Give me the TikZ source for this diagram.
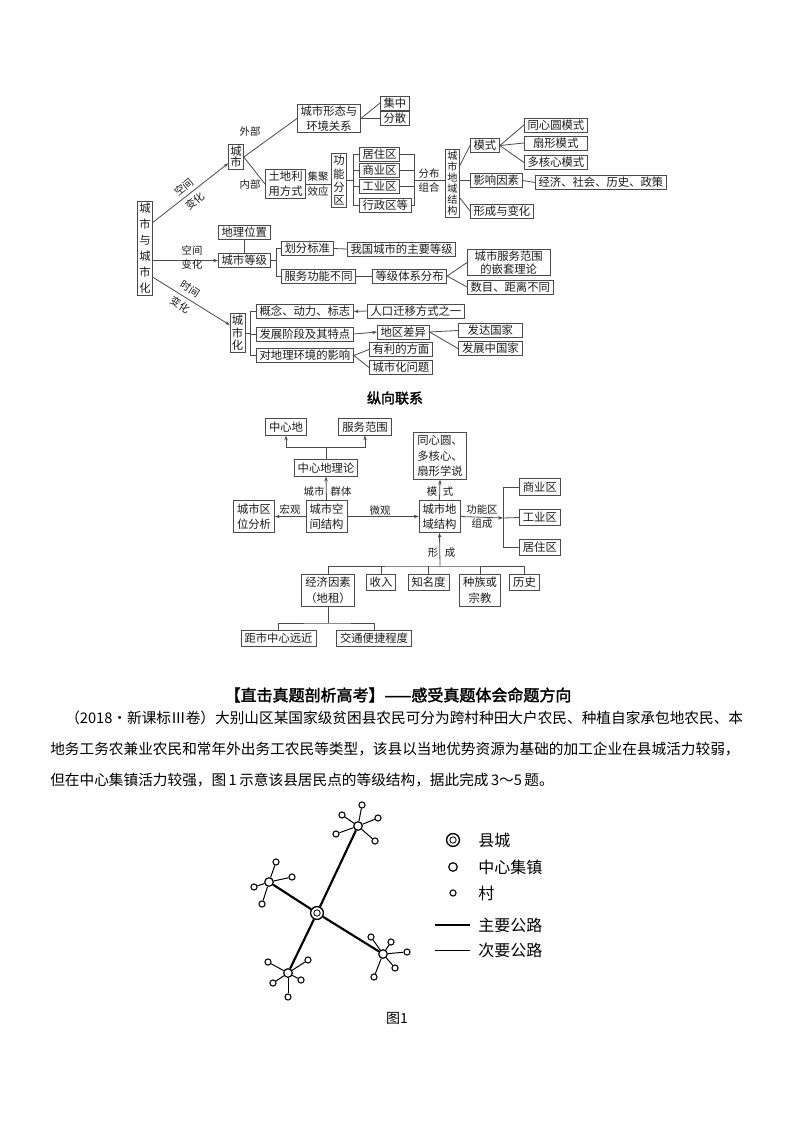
\documentclass[tikz,border=0pt]{standalone}
\usepackage{fontspec}
\setmainfont{Noto Sans CJK SC}
\newfontfamily\headfont{Noto Sans CJK SC}[FakeBold=2]
\usepackage{tikz}
\usetikzlibrary{positioning, arrows.meta, calc}
\definecolor{map-line}{HTML}{4A4A4A}
\definecolor{map-text}{HTML}{1A1A1A}

\begin{document}
\begin{tikzpicture}[
    x=0.75pt, y=-0.75pt,
    box/.style={draw=map-line, line width=0.6pt, fill=white, align=center,
                inner xsep=2.4pt, inner ysep=1.3pt, text=map-text,
                font=\fontsize{8.5}{11}\selectfont},
    vbox/.style={box, inner xsep=1.3pt, font=\fontsize{8.5}{#1}\selectfont},
    box2/.style={box, inner xsep=2.6pt, inner ysep=2.2pt,
                 font=\fontsize{8.5}{11.5}\selectfont},
    lbl/.style={align=center, inner sep=0.5pt, text=map-text,
                font=\fontsize{7.8}{11}\selectfont},
    link/.style={map-line, line width=0.6pt},
    arr/.style={link, -{Stealth[length=3.6pt, width=2.6pt]}},
    county/.style={circle, draw=black, line width=1pt, fill=white, minimum size=9.6pt,
                   inner sep=0pt, path picture={
                     \draw[line width=0.6pt] (path picture bounding box.center) circle (2.4pt);
                     \fill (path picture bounding box.center) circle (1.1pt);}},
    town/.style={circle, draw=black, line width=0.9pt, fill=white, minimum size=6.4pt, inner sep=0pt},
    vil/.style={circle, draw=black, line width=0.8pt, fill=white, minimum size=4.6pt, inner sep=0pt},
    mainroad/.style={black, line width=1.6pt},
    minorroad/.style={black, line width=0.75pt},
    legtxt/.style={anchor=west, inner sep=0pt, font=\fontsize{12}{14}\selectfont},
    para/.style={anchor=west, inner sep=0pt, font=\fontsize{11}{13}\selectfont},
]
    \fill[white] (0,0) rectangle (794,1123);
    \useasboundingbox (0,0) rectangle (794,1123);

    % Mind map: root
    \node[vbox=12] (root) at (145,248.5) {城\\市\\与\\城\\市\\化};

    % Spatial change: city
    \node[vbox=8.5] (city) at (236,157) {城\\市};
    \node[box, anchor=west] (shape) at (297,118.5) {城市形态与\\环境关系};
    \node[box, anchor=west] (jizhong) at (380,103) {集中};
    \node[box, anchor=west] (fensan) at (380,118.5) {分散};
    \node[box, anchor=west] (land) at (265,184) {土地利\\用方式};
    \node[vbox=10] (func) at (339,180.5) {功\\能\\分\\区};
    \node[box, anchor=west] (z1) at (359,154) {居住区};
    \node[box, anchor=west] (z2) at (359,170) {商业区};
    \node[box, anchor=west] (z3) at (359,186.5) {工业区};
    \node[box, anchor=west] (z4) at (359,205) {行政区等};
    \node[vbox=8.3, font=\fontsize{7.6}{8.3}\selectfont] (struct) at (452.5,183)
        {城\\市\\地\\域\\结\\构};
    \node[box, anchor=west] (mode) at (470,145.5) {模式};
    \node[box, anchor=west, minimum width=47pt] (m1) at (524,125) {同心圆模式};
    \node[box, anchor=west, minimum width=47pt] (m2) at (524,143) {扇形模式};
    \node[box, anchor=west, minimum width=47pt] (m3) at (524,162.5) {多核心模式};
    \node[box, anchor=west] (infl) at (470,180.5) {影响因素};
    \node[box, anchor=west] (econ) at (535,182.5) {经济、社会、历史、政策};
    \node[box, anchor=west] (form) at (470,211) {形成与变化};

    \coordinate (fl) at (353,180.5);
    \coordinate (fr) at (414,180.5);

    \draw[arr] ([yshift=-16pt]root.north east) -- ([yshift=5pt]city.south west);
    \node[lbl, rotate=39] (sp1a) at (184,187) {空间};
    \node[lbl, rotate=39] (sp1b) at (195,201) {变化};
    \draw[link] (city.east) -- (shape.west);
    \draw[link] (city.east) -- (land.west);
    \node[lbl] (outer) at (250,132) {外部};
    \node[lbl] (inner) at (250,185) {内部};
    \draw[link] (shape.east) -- (jizhong.west);
    \draw[link] (shape.east) -- (fensan.west);
    \draw[link] (land.east) -- (land.east -| func.west);
    \node[lbl] (jj) at (318,184) {集聚\\效应};
    \draw[link] (func.east) -- (fl);
    \draw[link] (z1.west) -- ++(-6,0) |- (z4.west);
    \draw[link] (z2.west) -- ++(-6,0);
    \draw[link] (z3.west) -- ++(-6,0);
    \draw[link] (z1.east) -- (z1.east -| fr) |- (z4.east);
    \draw[link] (z2.east) -- (z2.east -| fr);
    \draw[link] (z3.east) -- (z3.east -| fr);
    \draw[link] (fr) -- (struct.west |- fr);
    \node[lbl] (fb) at (429,180.5) {分布\\组合};
    \draw[link] ([yshift=13pt]struct.east) -- (mode.west);
    \draw[link] (struct.east |- infl.west) -- (infl.west);
    \draw[link] ([yshift=-11pt]struct.east) -- (form.west);
    \draw[link] (mode.east) -- (m1.west);
    \draw[link] (mode.east) -- (m2.west);
    \draw[link] (mode.east) -- (m3.west);
    \draw[link] (infl.east) -- (econ.west);

    % Spatial change: city grade
    \node[box, anchor=west] (loc) at (218,232) {地理位置};
    \node[box, anchor=west] (grade) at (218,260.5) {城市等级};
    \node[box, anchor=west] (std) at (281,248.5) {划分标准};
    \node[box, anchor=west] (main) at (347,249) {我国城市的主要等级};
    \node[box, anchor=west] (serv) at (281,276) {服务功能不同};
    \node[box, anchor=west] (sys) at (372,276) {等级体系分布};
    \node[box, anchor=west, minimum width=62pt, font=\fontsize{8.5}{9.5}\selectfont] (nest)
        at (467,262.5) {城市服务范围\\的嵌套理论};
    \node[box, anchor=west, minimum width=62pt] (num) at (467,287) {数目、距离不同};

    \coordinate (gb) at (276,260.5);
    \draw[arr] (root.east |- grade.west) -- (grade.west);
    \node[lbl] (sp2) at (192,257.5) {空间\\变化};
    \draw[link] (loc.south) -- (grade.north);
    \draw[link] (grade.east) -- (gb);
    \draw[link] (std.west) -- ++(-5,0) |- (serv.west);
    \draw[link] (std.east) -- (main.west);
    \draw[link] (serv.east) -- (sys.west);
    \draw[link] (sys.east) -- (nest.west);
    \draw[link] (sys.east) -- (num.west);

    % Temporal change: urbanisation
    \node[vbox=9.5] (urb) at (237.5,333) {城\\市\\化};
    \node[box, anchor=west] (c1) at (256,311.5) {概念、动力、标志};
    \node[box, anchor=west] (c2) at (256,334) {发展阶段及其特点};
    \node[box, anchor=west] (c3) at (256,355.5) {对地理环境的影响};
    \node[box, anchor=west] (mig) at (367,311) {人口迁移方式之一};
    \node[box, anchor=west] (reg) at (377,332) {地区差异};
    \node[box, anchor=west, minimum width=48pt] (dev1) at (458,330.5) {发达国家};
    \node[box, anchor=west, minimum width=48pt] (dev2) at (458,348.5) {发展中国家};
    \node[box, anchor=west] (adv) at (369,349.5) {有利的方面};
    \node[box, anchor=west] (prob) at (369,367.5) {城市化问题};

    \coordinate (ub) at (250,333);
    \draw[arr] ([yshift=14pt]root.south east) -- ([yshift=6pt]urb.west);
    \node[lbl, rotate=-32] (tma) at (190,289) {时间};
    \node[lbl, rotate=-32] (tmb) at (180,305) {变化};
    \draw[link] (urb.east) -- (ub);
    \draw[link] (c1.west) -- ++(-6,0) |- (c3.west);
    \draw[link] (c2.west) -- ++(-6,0);
    \draw[arr] (mig.west) -- (c1.east);
    \draw[arr] (c2.east) -- (reg.west);
    \draw[link] (reg.east) -- (dev1.west);
    \draw[link] (reg.east) -- (dev2.west);
    \draw[link] (c3.east) -- (adv.west);
    \draw[link] (c3.east) -- (prob.west);

    % Title
    \node[font=\headfont\fontsize{10.5}{12}\selectfont] (title) at (395,398) {纵向联系};

    % Vertical links
    \node[box2] (cm) at (286,427) {中心地};
    \node[box2] (sr) at (365,427) {服务范围};
    \node[box2] (cmt) at (326,468) {中心地理论};
    \node[box2] (ss) at (326.5,516.5) {城市空\\间结构};
    \node[box2] (loc2) at (254,516.5) {城市区\\位分析};
    \node[box2] (rs) at (439.5,516.5) {城市地\\域结构};
    \node[box2] (th) at (440,456) {同心圆、\\多核心、\\扇形学说};
    \node[box2, anchor=west] (sy) at (519,487) {商业区};
    \node[box2, anchor=west] (gy) at (519,517.5) {工业区};
    \node[box2, anchor=west] (jy) at (519,547.5) {居住区};
    \node[box2, anchor=north] (ec) at (328,574) {经济因素\\（地租）};
    \node[box2, anchor=north] (inc) at (381,574) {收入};
    \node[box2, anchor=north] (kn) at (428.5,574) {知名度};
    \node[box2, anchor=north] (ra) at (480,574) {种族或\\宗教};
    \node[box2, anchor=north] (hi) at (524.5,574) {历史};
    \node[box2, anchor=north] (d1) at (278.5,630) {距市中心远近};
    \node[box2, anchor=north] (d2) at (374,630) {交通便捷程度};

    \coordinate (cj) at (326,447);
    \coordinate (fj) at (503,518);
    \coordinate (bj) at (440,566);
    \coordinate (dj) at (328,623);
    \draw[link] (cmt.north) -- (cj);
    \draw[arr] (cj) -| (cm.south);
    \draw[arr] (cj) -| (sr.south);
    \draw[arr] (ss.north) -- (cmt.south);
    \node[lbl] (l1) at (314,492) {城市};
    \node[lbl] (l2) at (341,492) {群体};
    \draw[arr] (ss.west) -- (loc2.east);
    \node[lbl] (l3) at (290,510) {宏观};
    \draw[arr] (ss.east) -- (rs.west);
    \node[lbl] (l4) at (380,511) {微观};
    \draw[arr] (rs.north) -- (th.south);
    \node[lbl] (l5) at (432,492) {模};
    \node[lbl] (l6) at (448,492) {式};
    \draw[arr] (rs.east) -- (fj);
    \node[lbl] (l7) at (482,510) {功能区};
    \node[lbl] (l8) at (482,524) {组成};
    \draw[link] (sy.west) -- ++(-16,0) |- (jy.west);
    \draw[link] (fj) -- (gy.west);
    \draw[link] (ec.north) |- (bj) -| (hi.north);
    \draw[link] (inc.north) -- (inc.north |- bj);
    \draw[link] (kn.north) -- (kn.north |- bj);
    \draw[link] (ra.north) -- (ra.north |- bj);
    \draw[arr] (bj) -- (rs.south);
    \node[lbl] (l9) at (433,553) {形};
    \node[lbl] (l10) at (450,553) {成};
    \draw[link] (ec.south) -- (dj);
    \draw[link] (d1.north) |- (dj) -| (d2.north);

    % Exam text
    \node[font=\headfont\fontsize{12}{14}\selectfont] (head) at (398,695)
        {【直击真题剖析高考】——感受真题体会命题方向};
    \node[para] (p1) at (65,718)
        {（2018·新课标Ⅲ卷）大别山区某国家级贫困县农民可分为跨村种田大户农民、种植自家承包地农民、本};
    \node[para] (p2) at (50,749)
        {地务工务农兼业农民和常年外出务工农民等类型，该县以当地优势资源为基础的加工企业在县城活力较弱，};
    \node[para] (p3) at (50,780)
        {但在中心集镇活力较强，图\,1\,示意该县居民点的等级结构，据此完成\,3～5\,题。};

    % Figure 1: settlements
    \node[county] (xian) at (317,913) {};
    \node[town] (tne) at (358,826) {};
    \node[town] (tw) at (269,882) {};
    \node[town] (tse) at (383,954) {};
    \node[town] (tsw) at (288,973) {};
    \node[vil] (ne1) at (362,805) {};
    \node[vil] (ne2) at (342,815) {};
    \node[vil] (ne3) at (378,818) {};
    \node[vil] (ne4) at (336,834) {};
    \node[vil] (ne5) at (375,841) {};
    \node[vil] (w1) at (276,862) {};
    \node[vil] (w2) at (292,877) {};
    \node[vil] (w3) at (254,887) {};
    \node[vil] (w4) at (262,904) {};
    \node[vil] (se1) at (371,937) {};
    \node[vil] (se2) at (391,942) {};
    \node[vil] (se3) at (407,952) {};
    \node[vil] (se4) at (395,968) {};
    \node[vil] (se5) at (374,977) {};
    \node[vil] (sw1) at (268,962) {};
    \node[vil] (sw2) at (308,960) {};
    \node[vil] (sw3) at (273,983) {};
    \node[vil] (sw4) at (301,980) {};
    \node[vil] (sw5) at (288,997) {};

    \draw[mainroad] (xian) -- (tne);
    \draw[mainroad] (xian) -- (tw);
    \draw[mainroad] (xian) -- (tse);
    \draw[mainroad] (xian) -- (tsw);
    \draw[minorroad] (tne) -- (ne1); \draw[minorroad] (tne) -- (ne2);
    \draw[minorroad] (tne) -- (ne3); \draw[minorroad] (tne) -- (ne4);
    \draw[minorroad] (tne) -- (ne5);
    \draw[minorroad] (tw) -- (w1); \draw[minorroad] (tw) -- (w2);
    \draw[minorroad] (tw) -- (w3); \draw[minorroad] (tw) -- (w4);
    \draw[minorroad] (tse) -- (se1); \draw[minorroad] (tse) -- (se2);
    \draw[minorroad] (tse) -- (se3); \draw[minorroad] (tse) -- (se4);
    \draw[minorroad] (tse) -- (se5);
    \draw[minorroad] (tsw) -- (sw1); \draw[minorroad] (tsw) -- (sw2);
    \draw[minorroad] (tsw) -- (sw3); \draw[minorroad] (tsw) -- (sw4);
    \draw[minorroad] (tsw) -- (sw5);

    % Legend
    \node[county] (lcounty) at (453,840) {};
    \node[town] (ltown) at (453,867) {};
    \node[vil] (lvil) at (453,893) {};
    \coordinate (lm1) at (435,925);
    \coordinate (lm2) at (470,925);
    \coordinate (ls1) at (435,950);
    \coordinate (ls2) at (470,950);
    \draw[mainroad] (lm1) -- (lm2);
    \draw[minorroad] (ls1) -- (ls2);
    \node[legtxt] (t1) at (478,840) {县城};
    \node[legtxt] (t2) at (478,867) {中心集镇};
    \node[legtxt] (t3) at (478,893) {村};
    \node[legtxt] (t4) at (478,925) {主要公路};
    \node[legtxt] (t5) at (478,950) {次要公路};

    \node[font=\fontsize{10.5}{12}\selectfont] (cap) at (397,1018) {图1};
\end{tikzpicture}
\end{document}
